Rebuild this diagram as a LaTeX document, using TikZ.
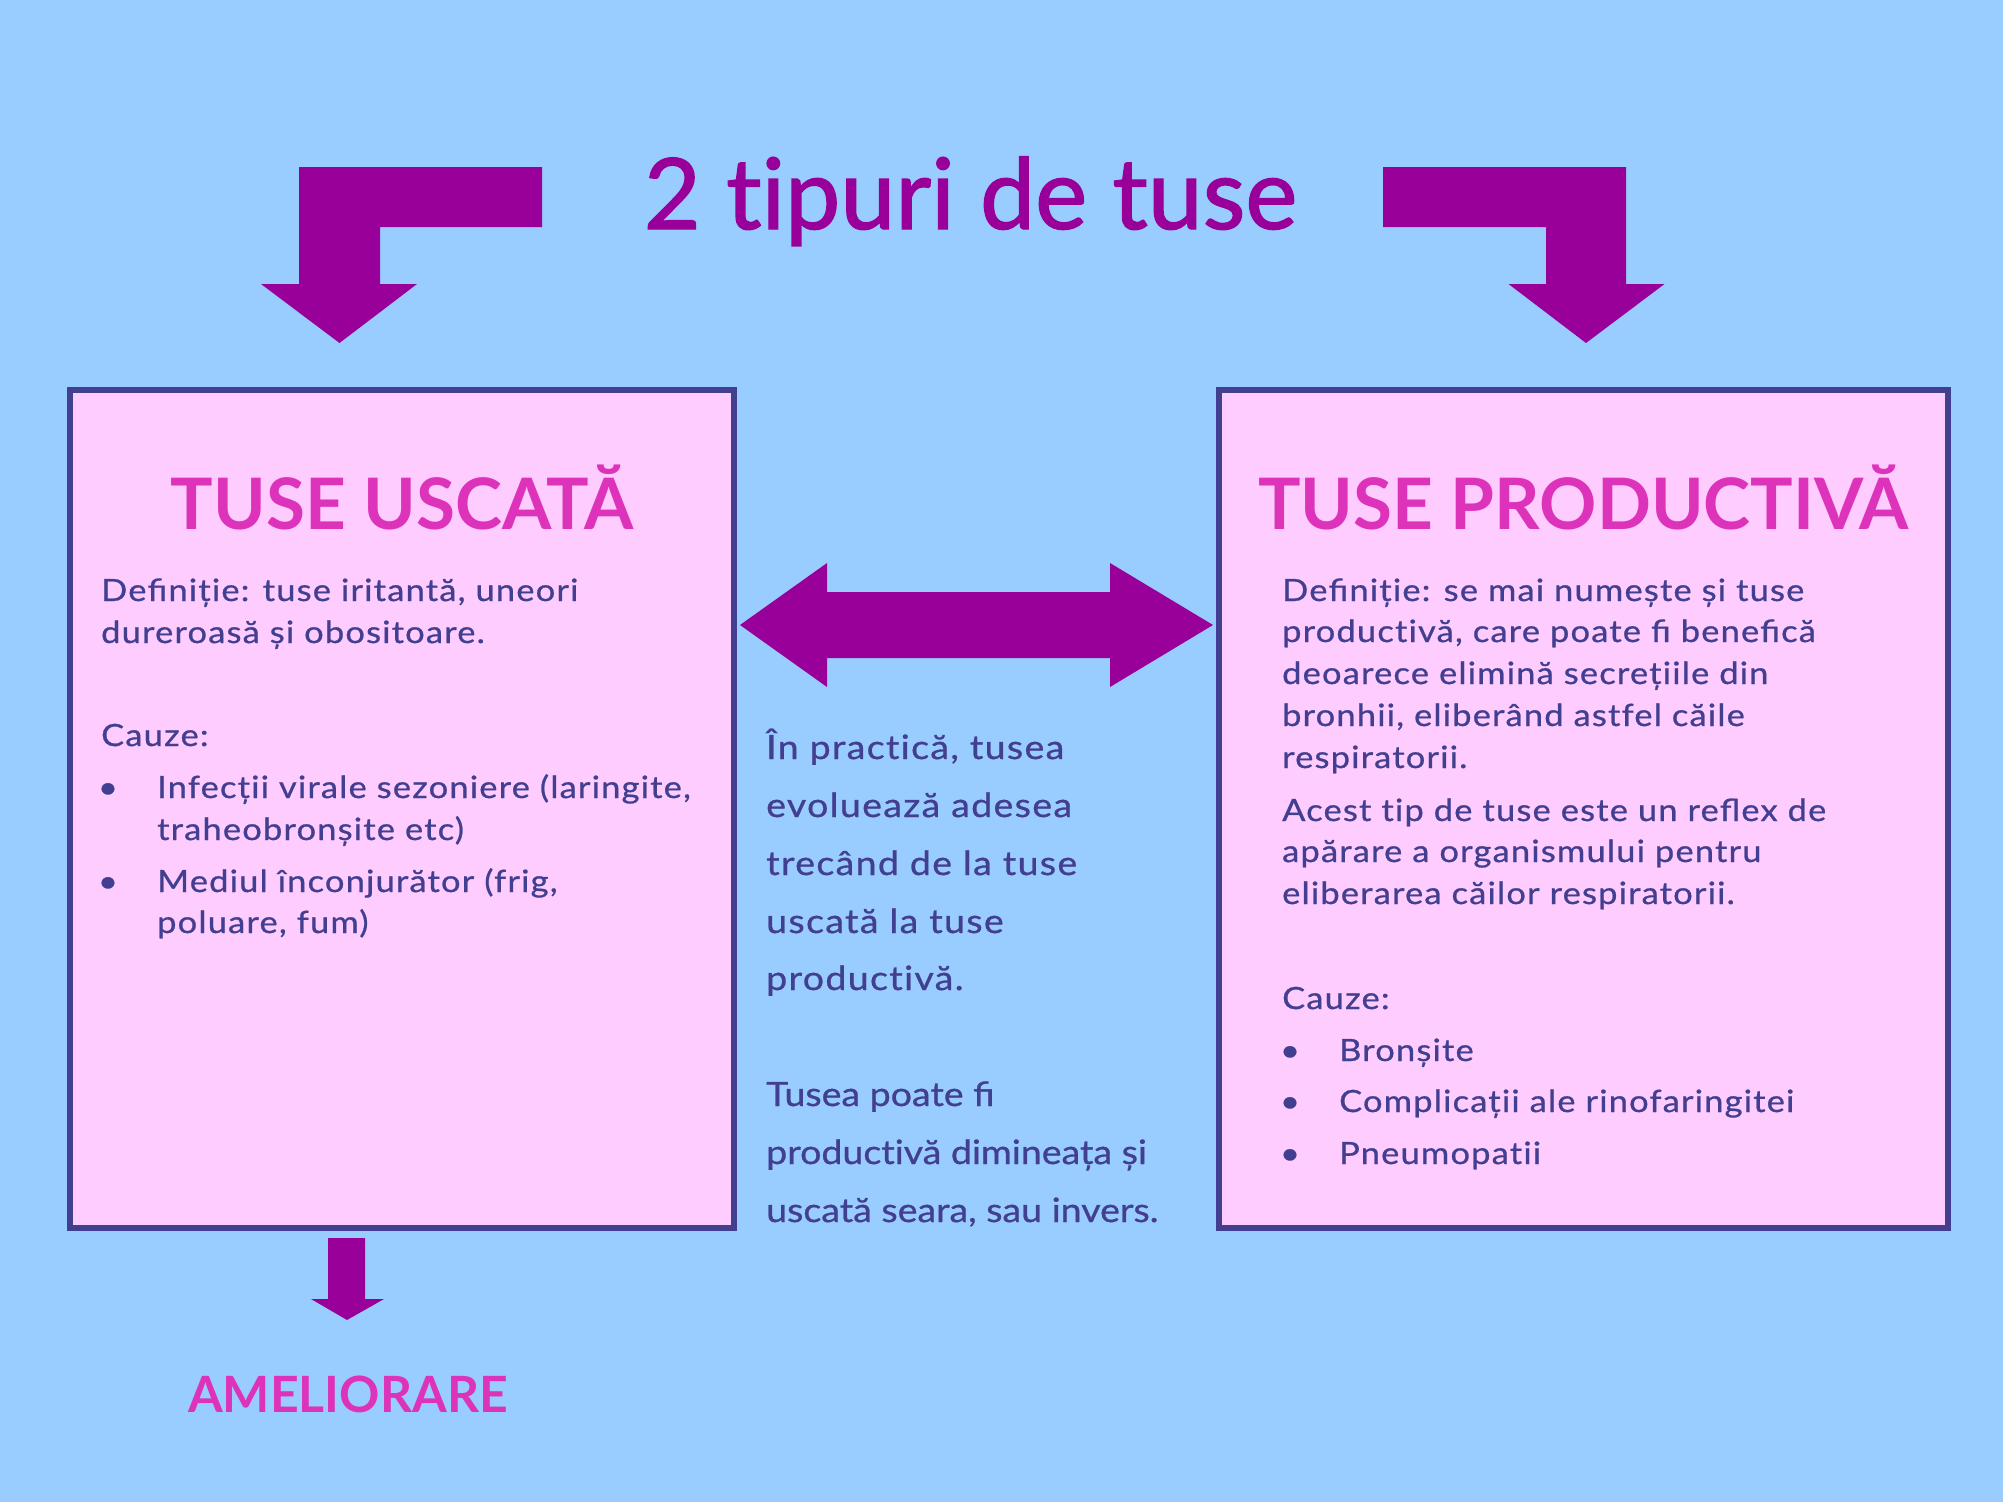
\documentclass[tikz,border=0pt]{standalone}
\usepackage{fontspec}
\setmainfont{Lato}
\newfontfamily\bodyface{Lato}[FakeStretch=1.12, LetterSpace=4, Ligatures=NoCommon, FakeBold=0.8]
\newfontfamily\tightface{Lato}[FakeStretch=1.12, Ligatures=NoCommon, FakeBold=0.8]
\newfontfamily\titleface{Lato}[Ligatures=NoCommon, FakeBold=1.4]
\definecolor{bg}{HTML}{99CCFF}
\definecolor{boxfill}{HTML}{FFCCFF}
\definecolor{purp}{HTML}{990099}
\definecolor{ink}{HTML}{433F90}
\definecolor{pinkt}{HTML}{DD33BB}
\newcommand\bodyfnt{\bodyface\fontsize{30.7}{40}\selectfont}
\newcommand\midfnt{\bodyface\fontsize{33.5}{40}\selectfont}
\newcommand\tightfnt{\tightface\fontsize{33.5}{40}\selectfont}
\begin{document}
\begin{tikzpicture}[x=1pt,y=-1pt,
  txt/.style={anchor=base west, inner sep=0pt, text=ink, font=\bodyfnt},
  mtxt/.style={anchor=base west, inner sep=0pt, text=ink, font=\midfnt},
  ttxt/.style={anchor=base west, inner sep=0pt, text=ink, font=\tightfnt},
  bul/.style={anchor=base, inner sep=0pt, text=ink, font=\bodyfnt},
  box/.style={draw=ink, fill=boxfill, line width=6pt, inner sep=0pt, rectangle},
  head/.style={anchor=base, inner sep=0pt, text=pinkt, font=\fontsize{71}{80}\selectfont\bfseries},
  arr/.style={fill=purp}]
\useasboundingbox (0,0) rectangle (2003,1502);
\fill[bg] (0,0) rectangle (2003,1502);

% title
\node[anchor=base, inner sep=0pt, text=purp, font=\titleface\fontsize{98.5}{110}\selectfont] (title) at (970.5,229) {2 tipuri de tuse};

% L-shaped arrows
\fill[arr] (542,167) -- (299,167) -- (299,284) -- (261,284) -- (339.5,343) -- (417,284) -- (380,284) -- (380,227) -- (542,227) -- cycle;
\fill[arr] (1383,167) -- (1626,167) -- (1626,284) -- (1664.5,284) -- (1586,343) -- (1508.5,284) -- (1546,284) -- (1546,227) -- (1383,227) -- cycle;

% boxes
\node[box, minimum width=664pt, minimum height=838pt] (lbox) at (402,809) {};
\node[box, minimum width=729pt, minimum height=838pt] (rbox) at (1583.5,809) {};

% double arrow between boxes
\coordinate (ay) at (0,625);
\coordinate (la) at ([xshift=3pt]lbox.east |- ay);
\coordinate (ra) at ([xshift=-3pt]rbox.west |- ay);
\fill[arr] (la) -- (827,563) -- (827,592) -- (1110,592) -- (1110,563) -- (ra) -- (1110,687) -- (1110,658) -- (827,658) -- (827,687) -- cycle;

% small down arrow
\fill[arr] (328,1238) -- (365,1238) -- (365,1299) -- (384,1299) -- (347,1320) -- (311,1299) -- (328,1299) -- cycle;
\node[anchor=base, inner sep=0pt, text=pinkt, font=\fontsize{50}{56}\selectfont\bfseries] (amel) at (348,1412) {AMELIORARE};

% headings
\node[head] (lhead) at (402,529) {TUSE USCATĂ};
\node[head] (rhead) at (1583.5,529) {TUSE PRODUCTIVĂ};

% left box text
\node[txt] (l1) at (101,601) {Deﬁniție: tuse iritantă, uneori};
\node[txt] (l2) at (101,643) {dureroasă și obositoare.};
\node[txt] (l3) at (101,746) {Cauze:};
\node[bul] (lb1) at (108,798) {•};
\node[txt] (l4) at (157,798) {Infecții virale sezoniere (laringite,};
\node[txt] (l5) at (157,840) {traheobronșite etc)};
\node[bul] (lb2) at (108,892) {•};
\node[txt] (l6) at (157,892) {Mediul înconjurător (frig,};
\node[txt] (l7) at (157,933) {poluare, fum)};

% middle text
\node[mtxt] (m1) at (766,759) {În practică, tusea};
\node[mtxt] (m2) at (766,817) {evoluează adesea};
\node[mtxt] (m3) at (766,875) {trecând de la tuse};
\node[mtxt] (m4) at (766,933) {uscată la tuse};
\node[mtxt] (m5) at (766,990) {productivă.};
\node[ttxt] (m6) at (766,1106) {Tusea poate ﬁ};
\node[ttxt] (m7) at (766,1164) {productivă dimineața și};
\node[ttxt] (m8) at (766,1222) {uscată seara, sau invers.};

% right box text
\node[txt] (r1) at (1282,601) {Deﬁniție: se mai numește și tuse};
\node[txt] (r2) at (1282,642) {productivă, care poate ﬁ beneﬁcă};
\node[txt] (r3) at (1282,684) {deoarece elimină secrețiile din};
\node[txt] (r4) at (1282,726) {bronhii, eliberând astfel căile};
\node[txt] (r5) at (1282,768) {respiratorii.};
\node[txt] (r6) at (1282,821) {Acest tip de tuse este un reﬂex de};
\node[txt] (r7) at (1282,862) {apărare a organismului pentru};
\node[txt] (r8) at (1282,904) {eliberarea căilor respiratorii.};
\node[txt] (r9) at (1282,1009) {Cauze:};
\node[bul] (rb1) at (1290,1061) {•};
\node[txt] (r10) at (1339,1061) {Bronșite};
\node[bul] (rb2) at (1290,1112) {•};
\node[txt] (r11) at (1339,1112) {Complicații ale rinofaringitei};
\node[bul] (rb3) at (1290,1164) {•};
\node[txt] (r12) at (1339,1164) {Pneumopatii};
\end{tikzpicture}
\end{document}
